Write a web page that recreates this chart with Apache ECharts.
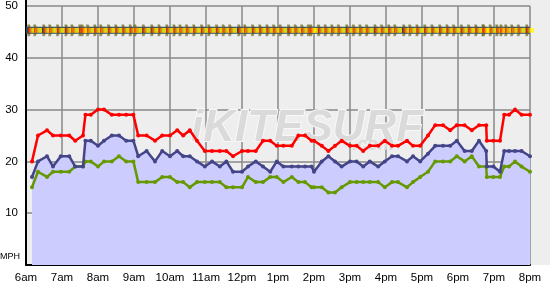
<!DOCTYPE html>
<html>
<head>
<meta charset="utf-8">
<script src="https://cdn.jsdelivr.net/npm/echarts@6/dist/echarts.min.js"></script>
<style>html,body{margin:0;padding:0;background:#fff}#main{width:550px;height:285px}</style>
</head>
<body>
<div id="main"></div>
<script>
// wind readings (mph)
var times = ['6:10','6:20','6:35','6:45','6:58','7:12','7:22','7:35','7:39','7:48',
	'8:00','8:10','8:23','8:35','8:47','8:59','9:07','9:21','9:35','9:47',
	'10:00','10:12','10:22','10:33','10:45','10:58','11:10','11:23','11:34','11:45',
	'12:00','12:10','12:23','12:35','12:47','12:58','13:09','13:23','13:34','13:45',
	'13:56','14:00','14:13','14:24','14:35','14:46','15:00','15:11','15:22','15:33',
	'15:47','15:58','16:10','16:20','16:35','16:45','16:57','17:10','17:22','17:35',
	'17:47','17:58','18:11','18:23','18:35','18:47','18:48','18:59','19:10','19:17',
	'19:25','19:35','19:46','20:00'];
var gust = [20,25,26,25,25,25,24,25,29,29, 30,30,29,29,29,29,25,25,24,25,
	25,26,25,26,24,22,22,22,22,21, 22,22,22,24,24,23,23,23,25,25,
	24,24,23,22,23,24,23,23,22,23, 23,24,23,23,24,23,23,25,27,27,
	26,27,27,26,27,27,24,24,24,29, 29,30,29,29];
var avg = [17,20,21,19,21,21,19,19,24,24, 23,24,25,25,24,24,21,22,20,22,
	21,22,21,21,20,19,20,19,20,18, 18,19,20,19,18,20,19,19,19,19,
	19,18,20,21,20,19,20,20,19,20, 19,20,21,21,20,21,20,21.5,23,23,
	23,24,22,22,24,22,19,19,18,22, 22,22,22,21];
var lull = [15,18,17,18,18,18,19,19,20,20, 19,20,20,21,20,20,16,16,16,17,
	17,16,16,15,16,16,16,16,15,15, 15,17,16,16,17,17,16,17,16,16,
	15,15,15,14,14,15,16,16,16,16, 16,15,16,16,15,16,17,18,20,20,
	20,21,20,21,19,19,17,17,17,19, 19,20,19,18];
var hourLabels = ['6am','7am','8am','9am','10am','11am','12pm','1pm','2pm','3pm','4pm','5pm','6pm','7pm','8pm'];
var dirLevel = 45.3;

function toHour(s) {
	var p = s.split(':');
	return +p[0] + (+p[1]) / 60;
}
function pairs(vals) {
	return times.map(function(t, i) { return [toHour(t), vals[i]]; });
}
var dirPts = pairs(times.map(function() { return dirLevel; }));

var chart = echarts.init(document.getElementById('main'));
var font = 'Liberation Sans, Arial, sans-serif';

chart.setOption({
	backgroundColor: '#fff',
	animation: false,
	grid: {left: 26, right: 20, top: 6, bottom: 20, show: true, backgroundColor: '#eeeeee', borderWidth: 0},
	xAxis: {
		type: 'value', min: 6, max: 20, interval: 1,
		axisLine: {lineStyle: {color: '#000', width: 2}},
		axisTick: {show: false},
		axisLabel: {
			color: '#000', fontSize: 11.5, fontFamily: font, margin: 7,
			formatter: function(v) { return hourLabels[Math.round(v - 6)] || ''; }
		},
		splitLine: {show: true, lineStyle: {color: '#888', width: 1.5}}
	},
	yAxis: {
		type: 'value', min: 0, max: 50, interval: 10,
		axisLine: {show: true, lineStyle: {color: '#000', width: 2}},
		axisTick: {show: false},
		axisLabel: {
			color: '#000', fontSize: 11.5, fontFamily: font, margin: 8,
			formatter: function(v) { return v === 0 ? '' : v; }
		},
		splitLine: {lineStyle: {color: '#888', width: 1.5}}
	},
	graphic: [
		{type: 'rect', z: 0, shape: {x: 26, y: 0, width: 524, height: 6}, style: {fill: '#eeeeee'}},
		{type: 'rect', z: 0, shape: {x: 530, y: 0, width: 20, height: 265}, style: {fill: '#eeeeee'}},
		{type: 'rect', z: 3, shape: {x: 25, y: 0, width: 2, height: 7}, style: {fill: '#000'}},
		{type: 'text', z: 1, left: 190, top: 106, style: {
			text: 'iKITESURF', fontSize: 44, fontWeight: 'bold', fontStyle: 'italic',
			fontFamily: font, fill: '#dadada', stroke: '#f8f8f8', lineWidth: 2}},
		{type: 'text', z: 1, left: 352, top: 136, style: {
			text: '.com', fontSize: 18, fontWeight: 'bold', fontStyle: 'italic',
			fontFamily: font, fill: '#dadada'}},
		{type: 'text', z: 3, left: 0, top: 252, style: {
			text: 'MPH', fontSize: 9, fontFamily: font, fill: '#000'}}
	],
	series: [
		{
			name: 'area', type: 'line', data: pairs(avg), symbol: 'none',
			lineStyle: {width: 0}, areaStyle: {color: '#ccccff', opacity: 1}, z: 2
		},
		{
			name: 'Lull', type: 'line', data: pairs(lull), symbol: 'circle', symbolSize: 4,
			showAllSymbol: true, color: '#669900', lineStyle: {width: 2.5, color: '#669900'}, z: 3
		},
		{
			name: 'Average', type: 'line', data: pairs(avg), symbol: 'circle', symbolSize: 4,
			showAllSymbol: true, color: '#444488', lineStyle: {width: 2.5, color: '#444488'}, z: 4
		},
		{
			name: 'Gust', type: 'line', data: pairs(gust), symbol: 'circle', symbolSize: 4,
			showAllSymbol: true, color: '#ff0000', lineStyle: {width: 2.5, color: '#ff0000'}, z: 5
		},
		{
			name: 'dirfins', type: 'scatter', data: dirPts,
			symbol: 'path://M0,0 L3,0 L4,4 L1,4 Z M1,9 L4,9 L3,13 L0,13 Z', symbolSize: [3, 11],
			symbolOffset: [-3, 0],
			itemStyle: {color: '#888800', borderColor: '#444', borderWidth: 0.3}, z: 5
		},
		{
			name: 'dirband', type: 'line', data: [[6, dirLevel], [20, dirLevel]], symbol: 'none',
			lineStyle: {width: 7, color: '#34465a'}, z: 6
		},
		{
			name: 'dir', type: 'scatter', data: dirPts,
			symbol: 'rect', symbolSize: [8, 5],
			itemStyle: {color: new echarts.graphic.LinearGradient(0, 0, 1, 0, [
				{offset: 0, color: '#ee0000'}, {offset: 0.3, color: '#ff8800'},
				{offset: 0.6, color: '#ffff00'}, {offset: 1, color: '#ffff00'}])}, z: 7
		}
	]
});
</script>
</body>
</html>
